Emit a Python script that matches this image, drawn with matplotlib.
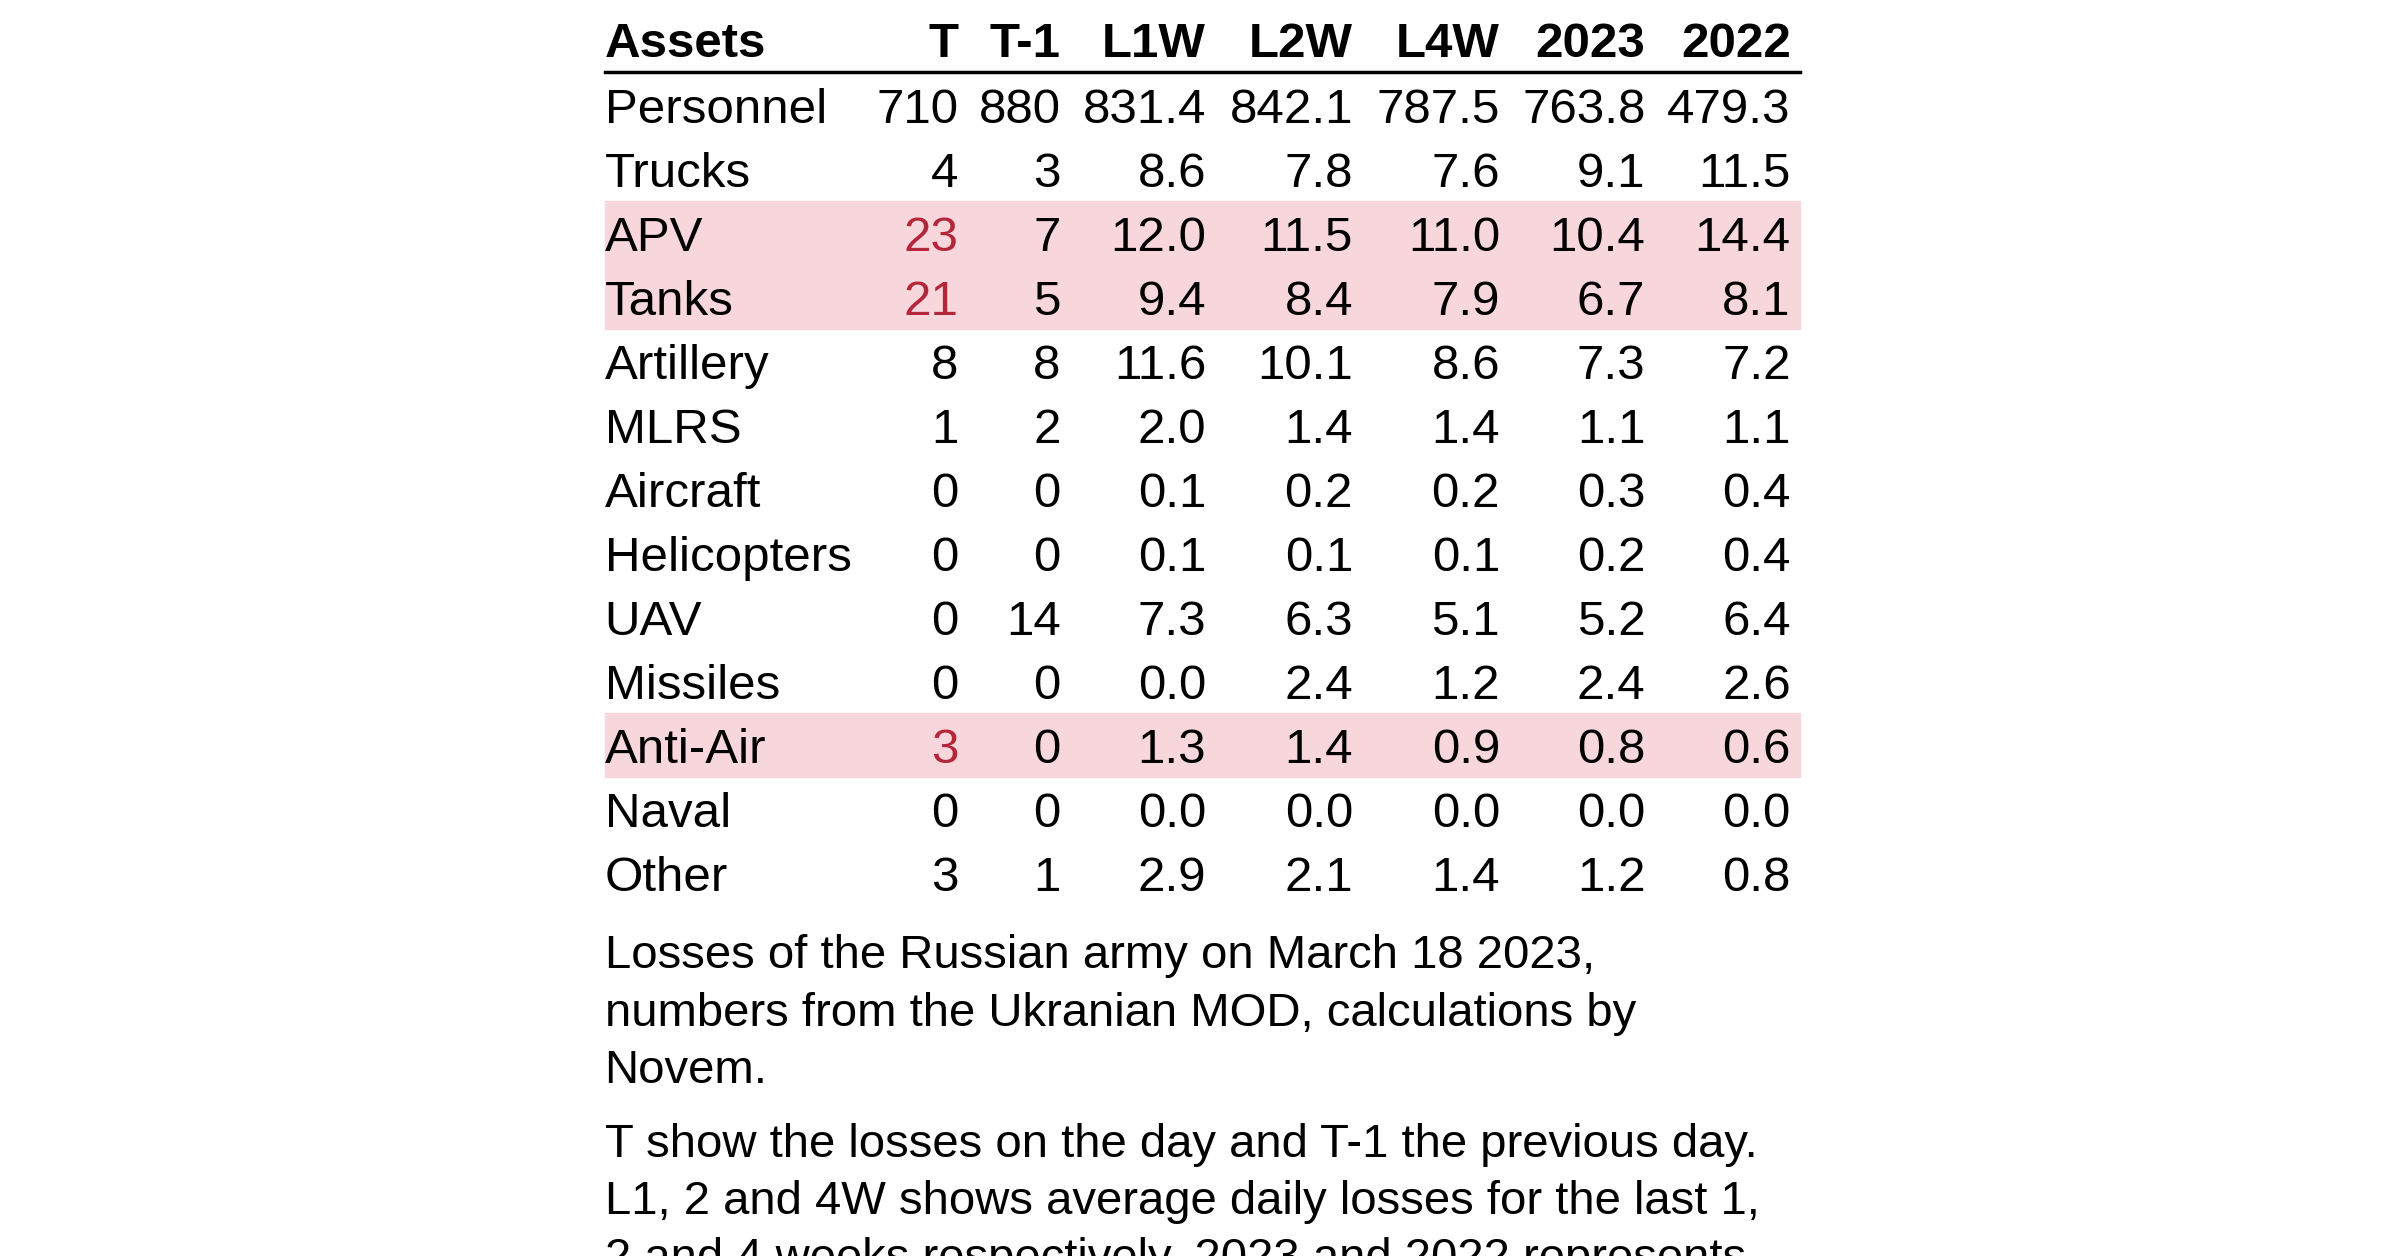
import matplotlib
matplotlib.use("Agg")
import matplotlib.pyplot as plt
from matplotlib.patches import Rectangle

plt.rcParams['font.family'] = ['Liberation Sans', 'DejaVu Sans']

columns = ["T", "T-1", "L1W", "L2W", "L4W", "2023", "2022"]
assets = ["Personnel", "Trucks", "APV", "Tanks", "Artillery", "MLRS", "Aircraft",
          "Helicopters", "UAV", "Missiles", "Anti-Air", "Naval", "Other"]
t_today = ["710", "4", "23", "21", "8", "1", "0", "0", "0", "0", "3", "0", "3"]
t_prev = ["880", "3", "7", "5", "8", "2", "0", "0", "14", "0", "0", "0", "1"]
l1w = ["831.4", "8.6", "12.0", "9.4", "11.6", "2.0", "0.1", "0.1", "7.3", "0.0", "1.3", "0.0", "2.9"]
l2w = ["842.1", "7.8", "11.5", "8.4", "10.1", "1.4", "0.2", "0.1", "6.3", "2.4", "1.4", "0.0", "2.1"]
l4w = ["787.5", "7.6", "11.0", "7.9", "8.6", "1.4", "0.2", "0.1", "5.1", "1.2", "0.9", "0.0", "1.4"]
y2023 = ["763.8", "9.1", "10.4", "6.7", "7.3", "1.1", "0.3", "0.2", "5.2", "2.4", "0.8", "0.0", "1.2"]
y2022 = ["479.3", "11.5", "14.4", "8.1", "7.2", "1.1", "0.4", "0.4", "6.4", "2.6", "0.6", "0.0", "0.8"]
highlight = ["APV", "Tanks", "Anti-Air"]

caption1 = ["Losses of the Russian army on March 18 2023,",
            "numbers from the Ukranian MOD, calculations by",
            "Novem."]
caption2 = ["T show the losses on the day and T-1 the previous day.",
            "L1, 2 and 4W shows average daily losses for the last 1,",
            "2 and 4 weeks respectively. 2023 and 2022 represents"]

W, H = 1568, 821
fig = plt.figure(figsize=(24, 12.56), dpi=100)
fx = lambda x: x / W
fy = lambda y: 1 - y / H

col_right = [626, 693, 788, 884, 980, 1075, 1170]
left, right = 395, 1176
fs = 35.5
red = "#b5263a"

# header
fig.text(fx(left), fy(37), "Assets", fontsize=fs, fontweight="bold", va="baseline")
for c, xr in zip(columns, col_right):
    fig.text(fx(xr), fy(37), c, fontsize=fs, fontweight="bold", ha="right", va="baseline")
fig.add_artist(plt.Line2D([fx(left), fx(right)], [fy(47), fy(47)], color="black", lw=2.5))

data = [t_today, t_prev, l1w, l2w, l4w, y2023, y2022]
row0, step = 69, 41.8
for i, a in enumerate(assets):
    yc = row0 + i * step
    if a in highlight:
        fig.add_artist(Rectangle((fx(left), fy(yc + step / 2)), fx(right) - fx(left),
                                 step / H, color="#f8d7dc", zorder=0))
    fig.text(fx(left), fy(yc + 11.5), a, fontsize=fs, va="baseline")
    for j, xr in enumerate(col_right):
        col = red if (j == 0 and a in highlight) else "black"
        fig.text(fx(xr), fy(yc + 11.5), data[j][i], fontsize=fs, ha="right",
                 va="baseline", color=col)

for k, line in enumerate(caption1):
    fig.text(fx(left), fy(633 + k * 37.5), line, fontsize=34, va="baseline")
for k, line in enumerate(caption2):
    fig.text(fx(left), fy(756 + k * 37.5), line, fontsize=34, va="baseline")

fig.savefig("out.png", dpi=100)
